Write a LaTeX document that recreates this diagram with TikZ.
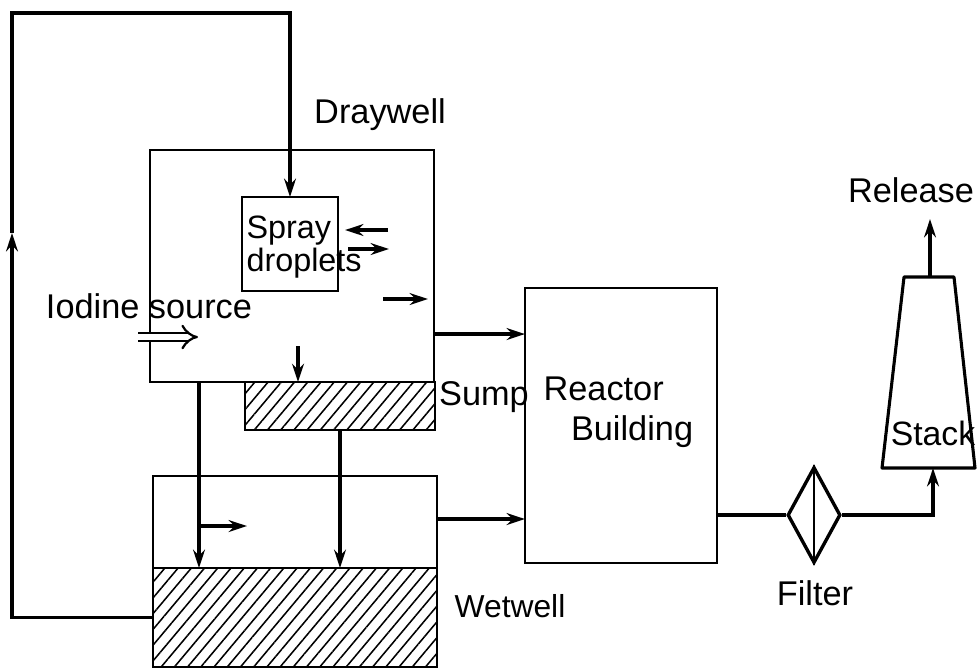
\documentclass[tikz,border=0pt]{standalone}
\usepackage{fontspec}
\setmainfont{Liberation Sans}
\usetikzlibrary{arrows.meta,positioning,shapes.geometric,patterns.meta,calc}
\tikzset{
  flow/.style={-{Stealth[length=6.5pt,width=4.2pt]}, line width=1.2pt},
  flowline/.style={line width=1.2pt},
  loopline/.style={line width=1.4pt},
  vessel/.style={draw, rectangle, line width=1pt, inner sep=0pt, outer sep=0pt},
  pool/.style={vessel, pattern={Lines[angle=50,distance=3.6pt,line width=0.55pt]}},
  tag/.style={font=\fontsize{12.2}{14.2}\selectfont, inner sep=0pt}
}

\begin{document}
\begin{tikzpicture}[x=0.0125cm, y=-0.0125cm]
\useasboundingbox (0,0) rectangle (977,670);

% containment vessels
\node[vessel, minimum width=3.55cm, minimum height=2.9cm] (drywell) at (292,266) {};
\node[vessel, minimum width=1.2cm, minimum height=1.175cm] (spray) at (290,244) {};
\node[pool, minimum width=2.375cm, minimum height=0.6cm] (sump) at (340,406) {};
\node[vessel, minimum width=3.55cm, minimum height=2.3875cm] (wetwell) at (295,571.5) {};
\node[pool, minimum width=3.55cm, minimum height=1.2375cm] (water) at (295,617.5) {};

\node[tag] (drylabel) at (380,115) {Draywell};
\node[tag, font=\fontsize{11.5}{12}\selectfont, align=left, anchor=west] (spraytext) at (246,247) {Spray\\droplets};
\node[tag] (iodine) at (149,306) {Iodine source};
\node[tag] (sumplabel) at (484,397) {Sump};
\node[tag, font=\fontsize{11.3}{14}\selectfont] (wetlabel) at (510,606) {Wetwell};

% recirculation loop
\coordinate (loopcorner) at (12,13);
\coordinate (looptip) at (12,233);
\draw[loopline, -{Stealth[length=6.5pt,width=4.2pt]}] (water.west) -| (looptip);
\draw[loopline, -{Stealth[length=6.5pt,width=4.2pt]}] (looptip) -- (loopcorner) -| (spray.north);

% source and exchange inside drywell
\coordinate (srcin) at (138,337);
\draw[double, double distance=2.2pt, line width=0.8pt, -{Implies}] (srcin) -- ++(60,0);
\coordinate (exA) at (388,230);
\draw[flow, shorten >=2.5pt] (exA) -- (exA -| spray.east);
\coordinate (exB) at (348,249);
\draw[flow] (exB) -- ++(41,0);
\coordinate (vent) at (383,299);
\draw[flow] (vent) -- ++(45,0);
\coordinate (rain) at (298,346);
\draw[flow] (rain) -- (rain |- drywell.south);

% drains to suppression pool
\coordinate (ventpipe) at (199,382);
\draw[flow] (ventpipe) -- (ventpipe |- water.north);
\draw[flow] (sump.south) -- (sump.south |- water.north);
\coordinate (wetvent) at (199,526);
\draw[flow] (wetvent) -- ++(48,0);

% reactor building
\node[vessel, minimum width=2.4cm, minimum height=3.4375cm] (reactor) at (621,425.5) {};
\node[tag, align=left, anchor=west] (rbtext) at (543,412) {Reactor\\\hspace*{0.8em}Building};
\draw[flow] ([yshift=-0.85cm]drywell.east) coordinate (d2r) -- (d2r -| reactor.west);
\draw[flow] ([yshift=0.656cm]wetwell.east) coordinate (w2r) -- (w2r -| reactor.west);

% filter and stack
\node[draw, diamond, line width=1.2pt, minimum width=0.6625cm, minimum height=1.2cm, inner sep=0pt] (filter) at (814,515) {};
\draw[line width=0.8pt] (filter.north) -- (filter.south);
\node[tag] (filterlabel) at (815,593) {Filter};
\draw[flowline] (filter.west -| reactor.east) -- (filter.west);

\coordinate (stacktop) at (930,277);
\coordinate (stackfoot) at (933,468);
\draw[line width=1.1pt, line join=round] (882,468) -- (904,277) -- (954,277) -- (975,468) -- cycle;
\node[tag, font=\fontsize{12}{14}\selectfont] (stack) at (933,433) {Stack};
\draw[flow] (filter.east) -| (stackfoot);
\draw[flow] (stacktop) -- ++(0,-58);
\node[tag] (release) at (911,190) {Release};
\end{tikzpicture}
\end{document}
